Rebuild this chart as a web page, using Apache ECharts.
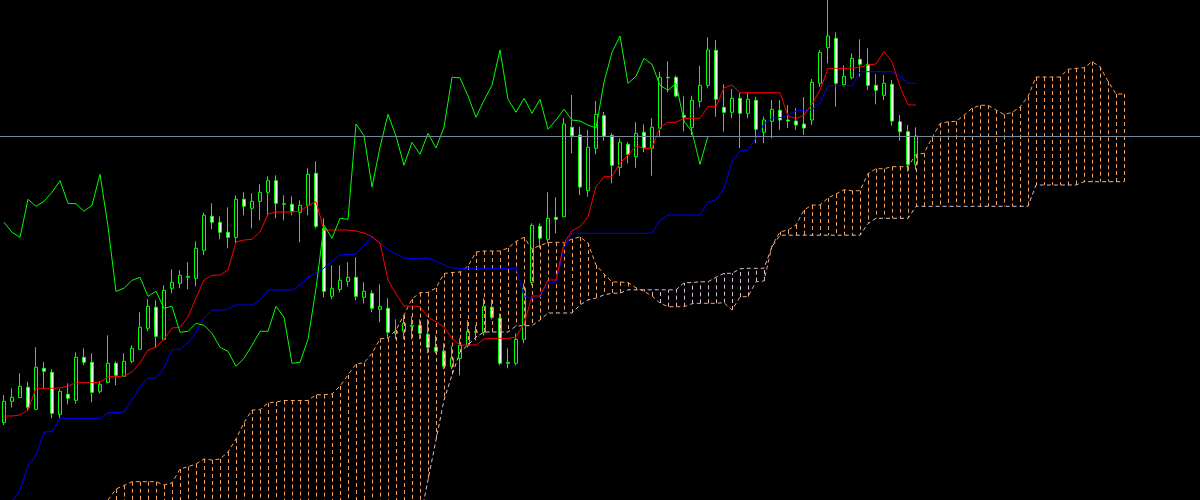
<!DOCTYPE html>
<html>
<head>
<meta charset="utf-8">
<script src="https://cdn.jsdelivr.net/npm/echarts@6/dist/echarts.min.js"></script>
<style>
html,body{margin:0;padding:0;background:#000;}
#chart{width:1200px;height:500px;}
</style>
</head>
<body>
<div id="chart"></div>
<script>
// ---- data (price units; no axis labels are shown on the reference) ----
const BAR_SLOTS = 150;          // visible bar slots (115 candles + 26 cloud bars + empty margin)
const SPAN_START = 13;          // first bar where the cloud enters the window
const categories = Array.from({length: BAR_SLOTS}, (_, i) => 'B' + i);

const open = [
77.3,98.7,102.3,112.7,90.7,131.7,127.7,85.7,105.7,99.7,
142.7,137.7,108.7,117.7,136.7,123.7,138.7,150.7,171.7,192.7,
160.7,211.7,216.7,222.7,221.7,249.7,283.7,277.7,267.7,262.7,
300.7,291.7,298.7,307.7,319.3,295.7,295.7,287.7,294.7,326.7,
271.7,203.7,210.7,218.7,222.7,202.7,206.7,190.7,191.7,166.7,
168.7,173.7,174.7,165.7,152.7,148.7,133.7,141.7,154.7,167.7,
167.7,192.7,181.7,136.7,136.7,160.7,217.7,273.7,260.7,282.7,
283.3,372.7,365,309.3,351.7,384.3,364.7,332.7,355.7,343.3,
367.7,351.7,371.7,422.7,422.7,384.7,372.3,398.7,414.7,449.7,
392.7,387.7,401.7,386.7,399.7,367.7,378.7,389.7,380,379,
376,380,416.7,452.3,461.7,415.3,422.3,440.7,435.7,414.7,
404.7,415.7,378.3,368.3,335.7];
const close = [
98.7,102.7,113.7,92.7,132.7,128.7,86.7,108.7,101.7,142.7,
137.7,107.7,115.7,136.7,124.7,138.7,151.7,172.7,193.7,163.7,
209.7,217.7,224.7,223.7,251.7,284.7,277.7,267.7,262.7,300.7,
293.7,298.7,307.7,319.3,296.7,296.2,288.7,294.7,325.7,273.7,
208.7,211.7,219.7,222.7,203.7,208.7,191.7,193.7,167.7,168.7,
176.7,174.7,166.7,152.7,148.7,133.7,141.7,154.7,168.7,168.7,
193.7,182.7,136.7,137.7,160.7,211.7,274.7,261.7,281.7,280.7,
376,364.3,313,352.7,385.7,364,334.7,357.7,345.7,366.7,
352,372.7,422.7,422.2,404,382.7,399.7,414.7,450,400.7,
387.7,401.7,386.7,400.7,370.7,380,390.7,380,379,375,
372,417.7,447.7,464,416.7,423.7,441.7,435.7,414.7,409.7,
416.7,379,368.3,335.7,364];
const low = [
75,92.7,102.3,90,90,111.7,81.7,81.7,95.7,96.3,
134.7,97.7,106.7,116.7,114.7,123.7,136.7,150.7,168.7,152.7,
159.7,206.7,211.7,210.7,213.7,245,270.7,260.7,251.7,256.7,
284.7,271.7,279.7,283.7,281.7,279.7,284.7,257.7,284.7,271.7,
202.7,200.7,207.7,213.3,199.7,196.7,187.7,177.7,161.7,160.7,
160.7,160.7,160.7,146.7,146.7,130.7,130.7,124.7,152.7,159.7,
164.7,180.7,134.7,131.7,134.7,156.7,214.7,251.7,256.7,266.7,
283.3,346.7,305,303.3,345.7,359.3,316.7,324.3,336.7,332.3,
347.7,324.3,362.7,407.7,402.7,368.7,365,392.7,411.7,383.3,
368.3,381.7,351.7,381.7,356.7,356.7,361.7,370,372,370,
365,375,413,436.7,393.3,413.3,420.7,423.3,410,395.7,
400,374.3,359.3,328.3,330];
const high = [
105,111.7,126.7,118.3,152.7,138,130.7,110.7,116.7,147.7,
151.7,146.7,118.7,164.7,138.7,146.7,154.7,187.7,200.7,199.7,
214.7,230.7,229.7,237.7,258.7,287.3,296.7,283.7,292.7,304.7,
307.7,306.7,315.7,323.7,324.7,304.7,303.7,299.7,331.7,338.7,
281.7,234.7,234.7,237.7,242.7,217.7,209.7,215.7,201.7,180.7,
183.7,183.7,180.7,180.7,164.7,156.7,153.7,161.7,179.7,174.7,
201.7,200.7,186.7,151.7,166.7,216.7,276.7,276.7,307.7,302.7,
382,405,373.3,370,399,388,366.7,361.7,357.7,377.7,
375.7,381.7,428.3,438.7,424.3,403.7,404.3,434.3,462.7,460,
415.7,411,407.3,406.7,403.3,383.3,400,400,395,392,
403,421,450,504,467.7,434.7,446.7,460.7,451.7,426,
425,420,385,375,372.7];

const tenkan = [
84,84,85,90,111.7,111.7,111.7,112,114,117.3,
117.3,117.3,117.7,123.3,123.3,124,128,137,150,152.7,
161,172,172.7,183,202,220,224.7,225,230,258,
260,260.7,268,286,288,288,288,289,294.3,298.3,
270,270,270,270,269,267,263.3,257,220,206,
194,194,193.3,182.7,178.3,173,161.7,155,155,155,
161,161.7,161.7,161.7,163,176,204,204,220,220,
256.7,269.3,273.3,283.3,313.3,323.3,323.3,337,345,354,
351.7,351.7,373,377.7,377.7,381.7,381.7,381.7,393.3,393.3,
412,415,407.3,407.3,407.3,407.3,407.3,407.3,384,381.3,
385,396,410,431.7,431.7,431.7,431.7,433,435,436,
448.3,438.3,413.3,395,395];
const kijun = [
-25,-2,10,34,45,68,68.3,81.7,81.7,81.7,
81.7,81.7,81.7,87.3,87.3,88,100,113,122,122,
132,150.7,150.7,157,168,182,190,190,191,195,
195,195,200,210,210,210,210,215,223,227,
232,239,245,245.7,245.7,255,263,257,250,246,
241.7,241.7,241.7,241.7,239,235,232,231.7,231.7,231.7,
231.7,231.7,231.7,231.7,231.7,204,201.7,203,216.7,218,
252,267,266.7,266.7,266.7,266.7,266.7,266.7,266.7,266.7,
266.7,267,280,285,285,285,285,285,298,300,
312,338,349,350,362,376,382,382.3,385,389,
390,390,397,414.3,414.3,414.3,414.3,428.3,428.3,428.3,
428.3,428.3,424,416.7,416.7];
const chikou = [
277.7,267.7,262.7,300.7,293.7,298.7,307.7,319.3,296.7,296.2,
288.7,294.7,325.7,273.7,208.7,211.7,219.7,222.7,203.7,208.7,
191.7,193.7,167.7,168.7,176.7,174.7,166.7,152.7,148.7,133.7,
141.7,154.7,168.7,168.7,193.7,182.7,136.7,137.7,160.7,211.7,
274.7,261.7,281.7,280.7,376,364.3,313,352.7,385.7,364,
334.7,357.7,345.7,366.7,352,372.7,422.7,422.2,404,382.7,
399.7,414.7,450,400.7,387.7,401.7,386.7,400.7,370.7,380,
390.7,380,379,375,372,417.7,447.7,464,416.7,423.7,
441.7,435.7,414.7,409.7,416.7,379,368.3,335.7,364];
// Senkou spans, from bar SPAN_START to bar 140
const spanA = [
0,11,14.5,18.3,18.3,18.3,18.3,15,17,31,
33.3,36,41,40,41,48,61,77.3,90,90.3,
97,98,99.5,99.5,99.5,99.5,105.3,105.3,106,114,
125,136,137.3,146.5,161.3,161.7,170,185,201,207.3,
207.5,212,226.5,227.5,228,234,248,249,249,249,
252,258.6,262.6,251,254.5,257.5,257.8,257.3,261,263.1,
257,235,226,218,218,217.5,212.2,208.7,204,197,
193.3,193.3,193.3,196.3,196.7,196.7,196.7,197.3,190,203,
203.5,218.3,219,254.3,268.1,270,275,290,295,295,
302,306,310.3,309.2,309.3,326.5,331.3,331.3,333.3,333.3,
333.3,345.7,346.7,362,376.5,378.2,378.7,384.7,391.7,394.7,
394.8,390,385.5,387.5,393,403.5,423,423,423,423,
430.7,431.7,432.2,438.3,433.3,418.7,406,406];
const spanB = [
-20,-20,-20,-20,-20,-20,-20,-20,-20,-20,
-20,-20,-20,-20,-20,-20,-20,-20,-20,-20,
-20,-20,-20,-20,-20,-20,-20,-20,-20,-20,
-20,-20,-20,-20,-20,-20,-20,-20,-20,-20,
20,60,100,125,148,155,163,168,168,168,
168,174,174.3,174.3,180,187,187,187,187,195,
200,202,205,206.8,206.8,210.2,210.2,210.2,210.2,210.2,
210.2,210.2,217.2,217.5,218.2,218.2,222.7,226.7,226.7,231.2,
231.7,231.7,231.7,253.3,264.8,264.8,264.8,264.8,264.8,264.8,
264.8,264.8,264.8,264.8,264.8,276.5,281.7,281.7,281.7,281.7,
281.7,293.7,293.7,293.7,293.7,293.7,293.7,293.7,293.7,293.7,
293.7,293.7,293.7,293.7,293.7,293.7,315,315,315,315,
315,315,318.3,318.3,318.3,318.3,318.3,318.3];
const lastPrice = close[close.length - 1];

// ---- styles ----
const C_CANDLE = '#00ff00', C_TENKAN = '#ff0000', C_KIJUN = '#0000ff', C_CHIKOU = '#00ff00';
const C_SPAN_A = '#f4a460', C_SPAN_B = '#d8bfd8', C_BID = '#778899';

const candleData = open.map((o, i) => [o, close[i], low[i], high[i]]);
const pad = (arr, start) => Array(start).fill(null).concat(arr);
const cloudData = spanA.map((a, k) => [SPAN_START + k, a, spanB[k]]);

const chart = echarts.init(document.getElementById('chart'), null, {renderer: 'canvas'});
chart.setOption({
  backgroundColor: '#000000',
  animation: false,
  grid: {left: 0, right: 0, top: 0, bottom: 0},
  xAxis: {type: 'category', data: categories, boundaryGap: true, show: false},
  yAxis: {type: 'value', min: 0, max: 500, show: false, splitLine: {show: false}},
  series: [
    {
      type: 'candlestick', z: 1, barWidth: 4, clip: true,
      data: candleData,
      itemStyle: {color: '#000000', color0: '#ffffff', borderColor: C_CANDLE, borderColor0: C_CANDLE, borderWidth: 1}
    },
    {
      type: 'custom', z: 2, clip: true,
      data: cloudData,
      encode: {x: 0, y: [1, 2]},
      renderItem: function (params, api) {
        const j = api.value(0), a = api.value(1), b = api.value(2);
        const pa = api.coord([j, a]), pb = api.coord([j, b]);
        const cs = params.coordSys;
        const clampY = y => Math.max(cs.y, Math.min(cs.y + cs.height, y));
        const x = Math.round(pa[0]) + 0.5;
        return {
          type: 'line',
          shape: {x1: x, y1: clampY(pa[1]), x2: x, y2: clampY(pb[1])},
          style: {stroke: a >= b ? C_SPAN_A : C_SPAN_B, lineWidth: 1, lineDash: [4, 3]}
        };
      }
    },
    {type: 'line', z: 3, data: pad(spanA, SPAN_START), symbol: 'none', clip: true,
     lineStyle: {color: C_SPAN_A, width: 1, type: [4, 3]}},
    {type: 'line', z: 3, data: pad(spanB, SPAN_START), symbol: 'none', clip: true,
     lineStyle: {color: C_SPAN_B, width: 1, type: [4, 3]}},
    {type: 'line', z: 4, data: kijun, symbol: 'none', clip: true,
     lineStyle: {color: C_KIJUN, width: 1}},
    {type: 'line', z: 4, data: tenkan, symbol: 'none', clip: true,
     lineStyle: {color: C_TENKAN, width: 1}},
    {type: 'line', z: 4, data: chikou, symbol: 'none', clip: true,
     lineStyle: {color: C_CHIKOU, width: 1},
     markLine: {silent: true, symbol: 'none', label: {show: false},
       lineStyle: {color: C_BID, width: 1, type: 'solid'},
       data: [{yAxis: lastPrice}]}}
  ]
});
</script>
</body>
</html>
